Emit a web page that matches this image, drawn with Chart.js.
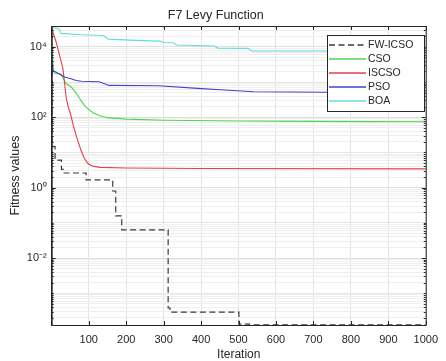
<!DOCTYPE html>
<html lang="en">
<head>
    <meta charset="UTF-8">
    <title>F7 Levy Function</title>
    <script src="https://cdn.jsdelivr.net/npm/chart.js"></script>
    <style>
        body { margin: 0; background: #fff; }
    </style>
</head>
<body>
    <canvas id="levyChart" width="446" height="361"></canvas>

    <script>
        // convergence curves (iteration -> best fitness)
        const fwIters = [1, 2, 4, 10, 27, 32, 93, 164, 172, 188, 312, 317, 501, 529, 840, 1000];
        const fwVals = [2.5e4, 3e3, 15, 14.6, 6, 3.3, 2.6, 1.65, 0.8, 0.158, 0.063, 3.8e-4, 2.9e-4, 1.32e-4, 1.26e-4, 1.26e-4];

        const csoIters = [1, 2, 4, 8, 26, 33, 40, 53, 62, 70, 79, 88, 97, 105, 114, 130, 150, 200, 300, 500, 700, 1000];
        const csoVals = [1.8e4, 5e3, 2.2e3, 1.8e3, 1.7e3, 1.2e3, 890, 720, 560, 420, 300, 220, 175, 150, 130, 110, 97, 88, 82, 78, 76, 74];

        const iscsoIters = [1, 5, 13, 22, 31, 35, 40, 46, 49, 53, 62, 70, 79, 88, 97, 105, 114, 130, 200, 400, 1000];
        const iscsoVals = [3.8e4, 2.5e4, 1.35e4, 5.7e3, 2.4e3, 1e3, 335, 180, 150, 103, 43, 22.6, 11.7, 6.8, 4.9, 4.3, 4.0, 3.75, 3.6, 3.5, 3.4];

        const psoIters = [1, 5, 13, 35, 53, 66, 80, 128, 154, 286, 391, 462, 541, 741, 1000];
        const psoVals = [4.6e3, 2.1e3, 1.9e3, 1.38e3, 1.24e3, 1.1e3, 1.05e3, 1.02e3, 800, 780, 660, 590, 530, 510, 500];

        const boaIters = [1, 20, 26, 80, 140, 152, 240, 290, 300, 325, 335, 435, 445, 525, 535, 980, 986, 1000];
        const boaVals = [3.6e4, 3.2e4, 2.4e4, 2.2e4, 2.1e4, 1.65e4, 1.5e4, 1.45e4, 1.33e4, 1.3e4, 1.12e4, 1.05e4, 9.2e3, 9e3, 7.6e3, 7.6e3, 6.9e3, 6.9e3];

        const seriesLabels = ['FW-ICSO', 'CSO', 'ISCSO', 'PSO', 'BOA'];
        const seriesColors = ['#3a3a3a', '#4fd64f', '#e6404a', '#4242c8', '#66dcd8'];

        const xTickValues = [100, 200, 300, 400, 500, 600, 700, 800, 900, 1000];
        const yTickValues = [1e-2, 1, 1e2, 1e4];
        const yTickLabels = ['10\u207B\u00B2', '10\u2070', '10\u00B2', '10\u2074'];
        const yMin = 1.25e-4;
        const yMax = 3.9e4;

        const axisColor = '#262626';
        const fontFamily = '"Liberation Sans", Arial, Helvetica, sans-serif';

        function toPoints(iters, vals) {
            return iters.map((it, i) => ({ x: it, y: vals[i] }));
        }

        function isDecade(v) {
            const e = Math.log10(v);
            return Math.abs(e - Math.round(e)) < 1e-6;
        }

        function isLabelled(v) {
            return yTickValues.some(t => Math.abs(t - v) / t < 1e-6);
        }

        // box round the axes plus inward tick marks, MATLAB style
        const boxPlugin = {
            id: 'box',
            afterDatasetsDraw(chart) {
                const { ctx, chartArea: a, scales } = chart;
                ctx.save();
                ctx.strokeStyle = axisColor;
                ctx.lineWidth = 1;
                ctx.beginPath();
                ctx.rect(a.left + 0.5, a.top + 0.5, a.right - a.left, a.bottom - a.top);
                ctx.stroke();
                ctx.beginPath();
                xTickValues.forEach(v => {
                    const px = Math.round(scales.x.getPixelForValue(v)) + 0.5;
                    ctx.moveTo(px, a.bottom); ctx.lineTo(px, a.bottom - 4);
                    ctx.moveTo(px, a.top); ctx.lineTo(px, a.top + 4);
                });
                scales.y.ticks.forEach(t => {
                    const py = Math.round(scales.y.getPixelForValue(t.value)) + 0.5;
                    const len = isLabelled(t.value) ? 4 : 2;
                    ctx.moveTo(a.left, py); ctx.lineTo(a.left + len, py);
                    ctx.moveTo(a.right, py); ctx.lineTo(a.right - len, py);
                });
                ctx.stroke();
                ctx.restore();
            }
        };

        // legend box in the upper right corner of the axes
        const legendPlugin = {
            id: 'boxLegend',
            afterDraw(chart) {
                const { ctx, chartArea: a } = chart;
                const w = 97, h = 76, rowH = 14.2;
                const x0 = Math.round(a.right - w - 2), y0 = Math.round(a.top + 9);
                ctx.save();
                ctx.fillStyle = '#fff';
                ctx.fillRect(x0, y0, w, h);
                ctx.strokeStyle = axisColor;
                ctx.lineWidth = 1;
                ctx.strokeRect(x0 + 0.5, y0 + 0.5, w, h);
                ctx.font = '10.5px ' + fontFamily;
                ctx.textBaseline = 'middle';
                seriesLabels.forEach((label, i) => {
                    const y = Math.round(y0 + 9.5 + i * rowH);
                    ctx.strokeStyle = seriesColors[i];
                    ctx.lineWidth = 1.4;
                    ctx.setLineDash(i === 0 ? [6, 3.5] : []);
                    ctx.beginPath();
                    ctx.moveTo(x0 + 2, y);
                    ctx.lineTo(x0 + 39, y);
                    ctx.stroke();
                    ctx.setLineDash([]);
                    ctx.fillStyle = axisColor;
                    ctx.fillText(label, x0 + 41, y);
                });
                ctx.restore();
            }
        };

        const ctx = document.getElementById('levyChart').getContext('2d');
        new Chart(ctx, {
            type: 'line',
            data: {
                datasets: [
                    { label: seriesLabels[0], data: toPoints(fwIters, fwVals), borderColor: seriesColors[0], borderWidth: 1.2, borderDash: [6, 3.5], stepped: 'after', order: 5 },
                    { label: seriesLabels[1], data: toPoints(csoIters, csoVals), borderColor: seriesColors[1], borderWidth: 1.1, order: 4 },
                    { label: seriesLabels[2], data: toPoints(iscsoIters, iscsoVals), borderColor: seriesColors[2], borderWidth: 1.1, order: 3 },
                    { label: seriesLabels[3], data: toPoints(psoIters, psoVals), borderColor: seriesColors[3], borderWidth: 1.1, order: 2 },
                    { label: seriesLabels[4], data: toPoints(boaIters, boaVals), borderColor: seriesColors[4], borderWidth: 1.1, order: 1 }
                ]
            },
            options: {
                responsive: false,
                animation: false,
                devicePixelRatio: 1,
                layout: { padding: { left: 0, right: 14.5, top: 0, bottom: 0 } },
                elements: { point: { radius: 0 }, line: { tension: 0 } },
                plugins: {
                    legend: { display: false },
                    tooltip: { enabled: false },
                    title: {
                        display: true,
                        text: 'F7 Levy Function',
                        color: axisColor,
                        font: { family: fontFamily, size: 12.5, weight: 'normal', lineHeight: 1.2 },
                        padding: { top: 8, bottom: 3 }
                    }
                },
                scales: {
                    x: {
                        type: 'linear',
                        min: 1,
                        max: 1000,
                        afterBuildTicks: scale => { scale.ticks = xTickValues.map(v => ({ value: v })); },
                        afterFit: scale => { scale.height = 36; },
                        grid: { color: '#e3e3e3', drawTicks: false },
                        border: { color: axisColor },
                        ticks: {
                            color: axisColor,
                            padding: 8,
                            maxRotation: 0,
                            autoSkip: false,
                            font: { family: fontFamily, size: 11 },
                            callback: value => String(value)
                        },
                        title: {
                            display: true,
                            text: 'Iteration',
                            color: axisColor,
                            font: { family: fontFamily, size: 12, lineHeight: 1 },
                            padding: { top: 0, bottom: 0 }
                        }
                    },
                    y: {
                        type: 'logarithmic',
                        min: yMin,
                        max: yMax,
                        afterBuildTicks: scale => {
                            // keep only the 1..9 x 10^n positions (drop 1.5 steps and the end limits)
                            scale.ticks = scale.ticks.filter(t => {
                                const m = t.value / Math.pow(10, Math.floor(Math.log10(t.value) + 1e-9));
                                return Math.abs(m - Math.round(m)) < 1e-6 && t.value > yMin && t.value < yMax;
                            });
                        },
                        afterFit: scale => { scale.width = 51.7; },
                        grid: {
                            drawTicks: false,
                            color: c => {
                                if (!c.tick) return '#efefef';
                                if (isLabelled(c.tick.value)) return '#dedede';
                                return isDecade(c.tick.value) ? '#e6e6e6' : '#efefef';
                            }
                        },
                        border: { color: axisColor },
                        ticks: {
                            color: axisColor,
                            padding: 5,
                            autoSkip: false,
                            font: { family: fontFamily, size: 11 },
                            callback: value => {
                                const i = yTickValues.findIndex(v => Math.abs(v - value) / v < 1e-6);
                                return i >= 0 ? yTickLabels[i] : '';
                            }
                        },
                        title: {
                            display: true,
                            text: 'Fitness values',
                            color: axisColor,
                            font: { family: fontFamily, size: 12.5 },
                            padding: { top: 8, bottom: 0 }
                        }
                    }
                }
            },
            plugins: [boxPlugin, legendPlugin]
        });
    </script>
</body>
</html>
